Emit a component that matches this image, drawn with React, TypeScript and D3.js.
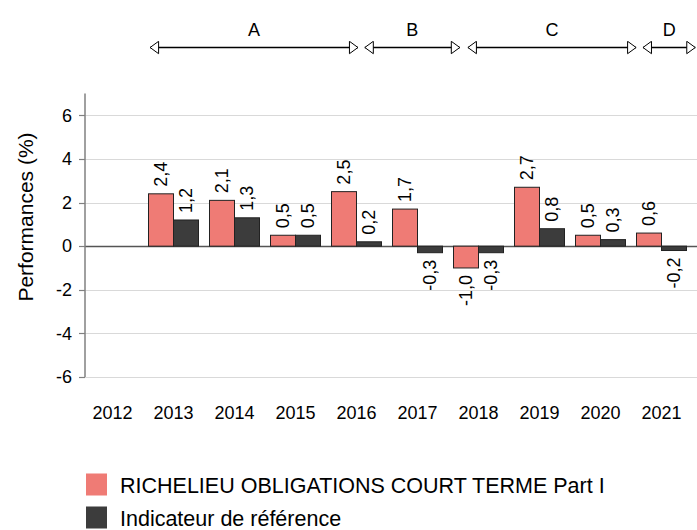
import React, { useEffect, useRef } from 'react'
import * as d3 from 'd3'

const years = ['2012', '2013', '2014', '2015', '2016', '2017', '2018', '2019', '2020', '2021']
const fundValues: (number | null)[] = [null, 2.4, 2.1, 0.5, 2.5, 1.7, -1.0, 2.7, 0.5, 0.6]
const indexValues: (number | null)[] = [null, 1.2, 1.3, 0.5, 0.2, -0.3, -0.3, 0.8, 0.3, -0.2]
const seriesNames = ['RICHELIEU OBLIGATIONS COURT TERME Part I', 'Indicateur de référence']
const yTicks = [-6, -4, -2, 0, 2, 4, 6]
// periods as fractional years
const periodLabels = ['A', 'B', 'C', 'D']
const periodStarts = [2013.1, 2016.62, 2018.31, 2021.18]
const periodEnds = [2016.54, 2018.21, 2021.1, 2022.07]

const FONT = "'Liberation Sans', Arial, sans-serif"
const RED = '#ef7b75'
const DARK = '#3c3c3c'

export default function App() {
    const ref = useRef<HTMLDivElement>(null)

    useEffect(() => {
        const container = d3.select(ref.current)
        container.selectAll('*').remove()

        const width = 697, height = 530
        const axisX = 85
        const svg = container.append('svg')
            .attr('width', width)
            .attr('height', height)
            .style('display', 'block')
            .style('font-family', FONT)

        const x = d3.scaleBand().domain(years).range([82, 82 + 610])
        const xSeries = d3.scaleBand().domain(['fund', 'index']).range([5.5, 55.5])
        const y = d3.scaleLinear().domain([-6, 7]).range([377, 93.5])
        const xTime = d3.scaleLinear().domain([2012, 2022]).range([82, 82 + 610])

        // gridlines
        svg.append('g').selectAll('line').data(yTicks).join('line')
            .attr('x1', axisX).attr('x2', width)
            .attr('y1', d => Math.round(y(d)) + 0.5).attr('y2', d => Math.round(y(d)) + 0.5)
            .attr('stroke', d => d === 0 ? '#555' : '#d9d9d9')
            .attr('stroke-width', d => d === 0 ? 1.3 : 1)

        // y axis
        svg.append('line')
            .attr('x1', axisX).attr('x2', axisX)
            .attr('y1', y(7)).attr('y2', y(-6))
            .attr('stroke', '#808080').attr('stroke-width', 1.5)
        svg.append('g').selectAll('line').data(yTicks).join('line')
            .attr('x1', axisX - 6).attr('x2', axisX)
            .attr('y1', d => Math.round(y(d)) + 0.5).attr('y2', d => Math.round(y(d)) + 0.5)
            .attr('stroke', '#808080').attr('stroke-width', 1.2)
        svg.append('g').selectAll('text').data(yTicks).join('text')
            .attr('x', 72).attr('y', d => y(d))
            .attr('dy', '0.35em')
            .attr('text-anchor', 'end')
            .style('font-size', '18px')
            .text(d => String(d))

        svg.append('text')
            .attr('transform', 'translate(33, 217) rotate(-90)')
            .attr('text-anchor', 'middle')
            .style('font-size', '21px')
            .text('Performances (%)')

        // x labels
        svg.append('g').selectAll('text').data(years).join('text')
            .attr('x', d => (x(d) as number) + x.bandwidth() / 2)
            .attr('y', 419)
            .attr('text-anchor', 'middle')
            .style('font-size', '18px')
            .text(d => d)

        const fmt = (v: number) => d3.format('.1f')(v).replace('.', ',').replace('−', '-')

        const series = [
            { key: 'fund', values: fundValues, color: RED },
            { key: 'index', values: indexValues, color: DARK },
        ]
        series.forEach(s => {
            const pts = years.map((yr, i) => ({ yr, v: s.values[i] })).filter(p => p.v !== null) as { yr: string, v: number }[]
            const g = svg.append('g')
            g.selectAll('rect').data(pts).join('rect')
                .attr('x', p => (x(p.yr) as number) + (xSeries(s.key) as number))
                .attr('width', xSeries.bandwidth())
                .attr('y', p => y(Math.max(0, p.v)))
                .attr('height', p => Math.abs(y(p.v) - y(0)))
                .attr('fill', s.color)
                .attr('stroke', '#222')
                .attr('stroke-width', 1)
            g.selectAll('text').data(pts).join('text')
                .attr('transform', p => {
                    const cx = (x(p.yr) as number) + (xSeries(s.key) as number) + xSeries.bandwidth() / 2
                    const cy = p.v >= 0 ? y(p.v) - 7 : y(p.v) + 7
                    return 'translate(' + cx + ',' + cy + ') rotate(-90)'
                })
                .attr('dy', '0.35em')
                .attr('text-anchor', p => p.v >= 0 ? 'start' : 'end')
                .style('font-size', '18px')
                .text(p => fmt(p.v))
        })

        // period arrows
        const defs = svg.append('defs')
        defs.append('marker')
            .attr('id', 'openArrow')
            .attr('viewBox', '0 0 10 14')
            .attr('refX', 9.5).attr('refY', 7)
            .attr('markerWidth', 10).attr('markerHeight', 14)
            .attr('markerUnits', 'userSpaceOnUse')
            .attr('orient', 'auto-start-reverse')
            .append('path')
            .attr('d', 'M1,0.8 L9.5,7 L1,13.2 Z')
            .attr('fill', 'white')
            .attr('stroke', 'black')
            .attr('stroke-width', 1)

        const lineY = 47.5
        periodLabels.forEach((lab, i) => {
            const x1 = xTime(periodStarts[i]), x2 = xTime(periodEnds[i])
            svg.append('line')
                .attr('x1', x1 + 1).attr('x2', x2 - 1)
                .attr('y1', lineY).attr('y2', lineY)
                .attr('stroke', 'black').attr('stroke-width', 1.5)
                .attr('marker-start', 'url(#openArrow)')
                .attr('marker-end', 'url(#openArrow)')
            svg.append('text')
                .attr('x', (x1 + x2) / 2).attr('y', 36)
                .attr('text-anchor', 'middle')
                .style('font-size', '18px')
                .text(lab)
        })

        // legend
        const legendColors = [RED, DARK]
        seriesNames.forEach((name, i) => {
            svg.append('rect')
                .attr('x', 86).attr('y', 473.5 + i * 33)
                .attr('width', 21).attr('height', 22)
                .attr('fill', legendColors[i])
            svg.append('text')
                .attr('x', 120).attr('y', 493 + i * 32.5)
                .style('font-size', '21.5px')
                .text(name)
        })
    }, [])

    return <div ref={ref} style={{ position: 'absolute', left: 0, top: 0 }} />
}
